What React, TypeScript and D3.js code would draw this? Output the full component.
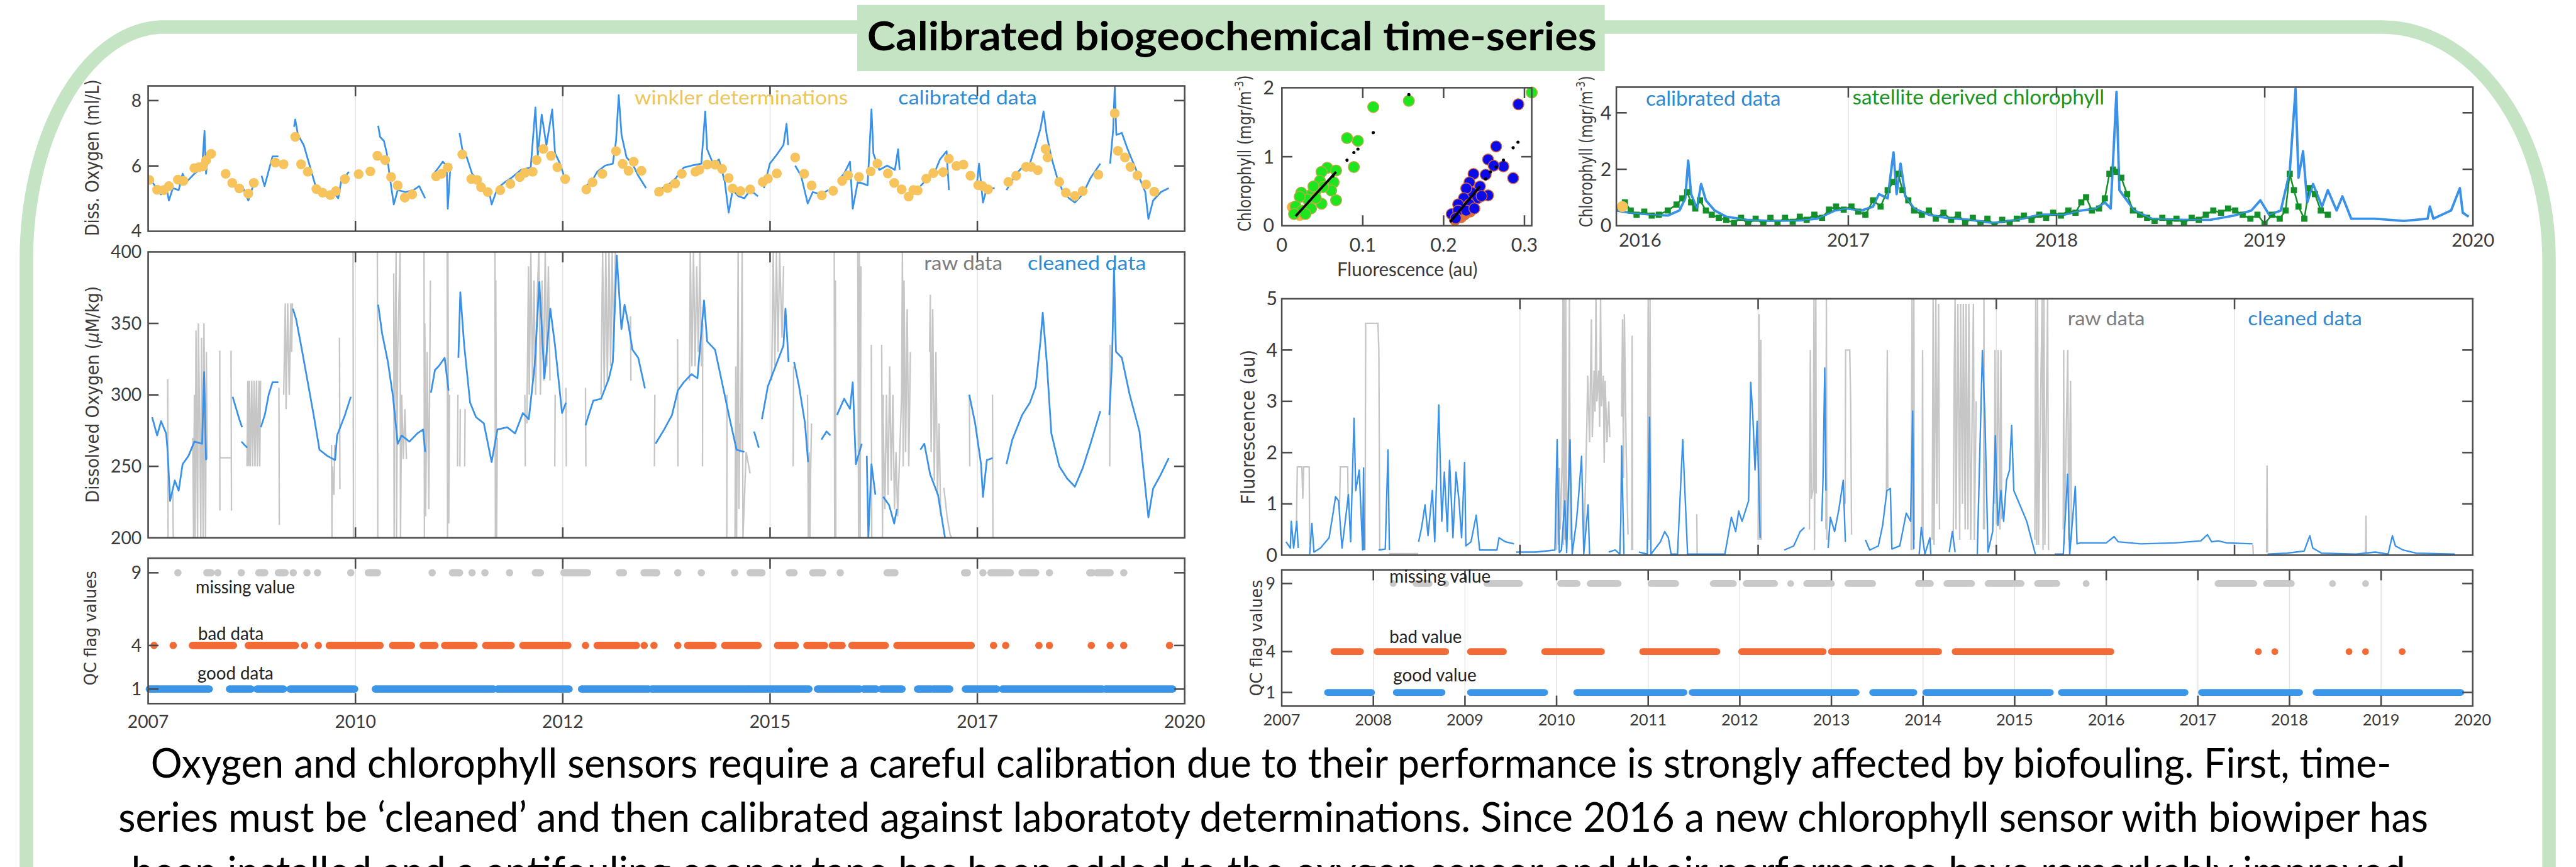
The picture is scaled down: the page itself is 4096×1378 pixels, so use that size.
import * as d3 from "d3";

type Pt = [number, number] | null;
type XY = [number, number];

const SCALE = 0.975;
const BLUE = "#3a92e8";
const GREY = "#c6c6c6";
const FONT = "Lato, 'Open Sans', sans-serif";
const AXFONT = "'DejaVu Sans', Verdana, sans-serif";

// ---------- oxygen column ----------
const oxyTickYears = [2007, 2009.6, 2012.2, 2014.8, 2017.4, 2020];
const oxyTickLabels = ["2007", "2010", "2012", "2015", "2017", "2020"];

const oxyCalibrated: Pt[] = [
  [2007.015, 5.63], [2007.088, 5.38], [2007.162, 5.13], [2007.236, 5.26], [2007.26, 4.94], [2007.31, 5.32], [2007.383, 5.26], [2007.432, 5.76], [2007.481, 5.51], [2007.579, 5.76], [2007.677, 5.95], [2007.707, 7.07], [2007.726, 5.76], [2007.751, 6.32], null,
  [2008.045, 5.54], [2008.119, 5.26], [2008.192, 5.32], [2008.256, 4.94], [2008.315, 5.38], null,
  [2008.423, 5.7], [2008.46, 5.38], [2008.56, 6.29], [2008.634, 6.29], null,
  [2008.83, 7.2], [2008.845, 7.42], [2008.879, 6.95], [2008.953, 6.63], [2009.026, 6.01], [2009.1, 5.38], [2009.174, 5.26], [2009.247, 5.04], [2009.345, 5.13], [2009.384, 5.01], [2009.419, 5.51], [2009.517, 5.82], null,
  [2009.885, 7.23], [2009.909, 6.89], [2009.958, 6.76], [2009.993, 6.39], [2010.032, 5.63], [2010.081, 4.82], [2010.13, 5.26], [2010.228, 5.2], [2010.327, 5.26], [2010.4, 5.38], [2010.474, 5.01], null,
  [2010.562, 5.7], [2010.621, 5.88], [2010.695, 6.13], [2010.744, 6.01], [2010.758, 4.69], [2010.793, 6.07], null,
  [2010.905, 7.01], [2010.94, 6.51], [2010.989, 6.32], [2011.063, 5.76], [2011.136, 5.57], [2011.21, 5.32], [2011.283, 5.13], [2011.308, 4.82], [2011.381, 5.32], [2011.479, 5.51], [2011.553, 5.63], [2011.676, 5.88], [2011.798, 5.95], [2011.857, 7.79], [2011.887, 6.32], [2011.936, 7.57], [2011.995, 6.63], [2012.068, 7.73], [2012.103, 6.39], [2012.166, 6.07], [2012.24, 5.51], null,
  [2012.485, 5.38], [2012.559, 5.51], [2012.632, 5.82], [2012.73, 6.01], [2012.828, 6.07], [2012.868, 6.76], [2012.902, 8.17], [2012.937, 6.95], [2013.0, 6.26], [2013.074, 6.07], [2013.147, 5.7], [2013.245, 5.32], null,
  [2013.364, 5.1], [2013.447, 5.32], [2013.521, 5.41], [2013.619, 5.63], [2013.717, 5.95], [2013.815, 6.01], [2013.938, 6.07], [2013.987, 7.67], [2014.011, 6.51], [2014.085, 6.07], [2014.159, 6.2], [2014.232, 5.51], [2014.281, 4.57], [2014.33, 5.26], [2014.404, 5.07], [2014.478, 5.01], [2014.551, 5.26], [2014.649, 5.07], null,
  [2014.723, 5.32], [2014.797, 6.07], [2014.895, 6.38], [2014.968, 6.64], [2015.007, 7.29], [2015.027, 6.64], null,
  [2015.115, 6.01], [2015.189, 5.7], [2015.272, 4.85], [2015.336, 5.2], [2015.434, 5.13], [2015.532, 5.26], null,
  [2015.655, 5.57], [2015.729, 5.76], [2015.802, 6.13], [2015.837, 4.69], [2015.9, 5.51], [2016.023, 5.41], [2016.047, 6.51], [2016.072, 7.73], [2016.096, 6.38], [2016.17, 5.88], [2016.268, 6.01], [2016.366, 5.88], [2016.406, 6.51], [2016.425, 5.88], null,
  [2016.685, 5.38], [2016.759, 5.57], [2016.857, 5.76], [2016.931, 6.2], [2017.014, 6.45], [2017.043, 5.26], null,
  [2017.397, 5.51], [2017.421, 6.07], [2017.47, 4.88], [2017.519, 5.32], [2017.617, 5.32], null,
  [2017.765, 5.26], [2017.887, 5.76], [2017.985, 6.01], [2018.059, 6.07], [2018.132, 6.64], [2018.191, 7.14], [2018.23, 7.67], [2018.27, 6.95], [2018.328, 6.26], [2018.402, 5.63], [2018.476, 5.2], [2018.55, 5.01], [2018.623, 4.88], [2018.721, 5.13], [2018.819, 5.63], [2018.942, 6.07], null,
  [2019.065, 6.07], [2019.104, 7.14], [2019.123, 8.45], [2019.143, 6.95], [2019.212, 7.01], [2019.285, 6.51], [2019.359, 6.07], [2019.433, 5.63], [2019.506, 5.2], [2019.545, 4.38], [2019.604, 4.94], [2019.702, 5.2], [2019.8, 5.32],
];

const winkler: XY[] = [
  [2007.015, 5.57], [2007.113, 5.27], [2007.196, 5.26], [2007.26, 5.38], [2007.373, 5.58], [2007.442, 5.54], [2007.579, 5.93], [2007.638, 5.96], [2007.687, 5.98], [2007.726, 6.17], [2007.79, 6.37],
  [2007.972, 5.76], [2008.055, 5.48], [2008.143, 5.31], [2008.256, 5.15], [2008.325, 5.48], [2008.595, 6.1], [2008.698, 6.05], [2008.845, 6.89], [2008.918, 6.05], [2009.002, 5.82],
  [2009.11, 5.29], [2009.188, 5.18], [2009.286, 5.11], [2009.355, 5.23], [2009.468, 5.6], [2009.64, 5.75], [2009.787, 5.83], [2009.875, 6.31], [2009.973, 6.18], [2010.047, 5.66],
  [2010.13, 5.4], [2010.219, 5.03], [2010.312, 5.13], [2010.611, 5.68], [2010.68, 5.76], [2010.758, 5.95], [2010.94, 6.35], [2011.053, 5.6], [2011.126, 5.57], [2011.175, 5.35],
  [2011.259, 5.2], [2011.416, 5.26], [2011.543, 5.45], [2011.661, 5.66], [2011.725, 5.79], [2011.823, 5.82], [2011.872, 6.18], [2011.955, 6.52], [2012.053, 6.31], [2012.132, 5.96],
  [2012.23, 5.6], [2012.495, 5.28], [2012.573, 5.5], [2012.696, 5.76], [2012.868, 6.45], [2012.951, 6.06], [2013.025, 5.85], [2013.089, 6.13], [2013.187, 5.85], [2013.408, 5.21],
  [2013.515, 5.32], [2013.609, 5.46], [2013.693, 5.76], [2013.864, 5.82], [2013.913, 5.88], [2014.011, 6.04], [2014.11, 6.04], [2014.198, 5.91], [2014.281, 5.63], [2014.33, 5.31],
  [2014.428, 5.23], [2014.551, 5.28], [2014.708, 5.51], [2014.772, 5.61], [2014.885, 5.77], [2015.115, 6.26], [2015.228, 5.76], [2015.321, 5.4], [2015.449, 5.1], [2015.591, 5.24],
  [2015.704, 5.54], [2015.778, 5.71], [2015.915, 5.66], [2016.062, 5.83], [2016.146, 6.07], [2016.278, 5.77], [2016.357, 5.48], [2016.45, 5.28], [2016.538, 5.06], [2016.597, 5.26],
  [2016.651, 5.25], [2016.759, 5.61], [2016.847, 5.78], [2016.97, 5.81], [2017.043, 6.22], [2017.137, 6.0], [2017.225, 6.04], [2017.313, 5.7], [2017.411, 5.41], [2017.465, 5.38],
  [2017.534, 5.28], [2017.789, 5.51], [2017.887, 5.7], [2018.01, 5.97], [2018.074, 5.97], [2018.157, 5.87], [2018.255, 6.52], [2018.28, 6.26], [2018.427, 5.51], [2018.51, 5.18],
  [2018.623, 5.08], [2018.721, 5.23], [2018.917, 5.73], [2019.123, 7.61], [2019.163, 6.46], [2019.251, 6.26], [2019.32, 5.97], [2019.408, 5.71], [2019.516, 5.43], [2019.619, 5.21],
];

const oxyCleaned: Pt[] = [
  [2007.05, 284.4], [2007.113, 271.6], [2007.162, 281.6], [2007.226, 273.0], [2007.245, 260.1], [2007.275, 225.8], [2007.334, 240.1], [2007.383, 233.0], [2007.432, 251.5], [2007.506, 257.3], [2007.58, 267.3], [2007.677, 265.8], [2007.702, 315.9], [2007.726, 254.4], null,
  [2008.06, 298.7], [2008.143, 283.0], [2008.178, 277.3], null,
  [2008.17, 267.3], [2008.242, 263.0], null,
  [2008.413, 277.3], [2008.463, 285.9], [2008.512, 300.2], [2008.56, 308.8], [2008.634, 308.8], null,
  [2008.815, 360.3], [2008.855, 353.1], [2008.928, 331.6], [2009.002, 308.8], [2009.076, 285.9], [2009.149, 261.6], [2009.247, 257.3], [2009.345, 254.4], [2009.37, 271.6], [2009.468, 285.9], [2009.542, 298.7], null,
  [2009.885, 363.1], [2009.934, 343.1], [2010.007, 323.1], [2010.071, 298.7], [2010.13, 265.8], [2010.179, 271.6], [2010.277, 267.3], [2010.375, 273.0], [2010.449, 275.8], [2010.474, 260.1], null,
  [2010.547, 301.6], [2010.597, 317.3], [2010.646, 320.2], [2010.719, 325.9], [2010.768, 303.0], null,
  [2010.891, 325.9], [2010.915, 371.7], [2010.964, 334.5], [2011.038, 294.5], [2011.112, 284.4], [2011.21, 280.1], [2011.308, 253.0], [2011.381, 275.8], [2011.504, 277.3], [2011.602, 273.0], [2011.7, 287.3], [2011.774, 283.0], [2011.847, 320.2], [2011.906, 378.9], [2011.97, 311.6], [2012.044, 360.3], [2012.103, 334.5], [2012.191, 287.3], [2012.24, 294.5], null,
  [2012.485, 278.7], [2012.583, 295.9], [2012.681, 297.3], [2012.779, 311.6], [2012.828, 323.1], [2012.877, 397.5], [2012.936, 346.0], [2012.975, 363.1], [2013.025, 348.8], [2013.074, 331.6], [2013.147, 325.9], [2013.231, 304.5], null,
  [2013.364, 265.8], [2013.472, 275.8], [2013.57, 285.9], [2013.643, 303.0], [2013.717, 308.8], [2013.815, 314.5], [2013.889, 311.6], [2013.972, 366.0], [2014.011, 337.4], [2014.11, 331.6], [2014.208, 305.9], [2014.306, 280.1], [2014.38, 261.6], [2014.478, 260.1], null,
  [2014.6, 274.4], [2014.659, 263.0], null,
  [2014.698, 283.0], [2014.772, 305.9], [2014.87, 320.2], [2014.968, 334.5], [2014.993, 360.3], [2015.032, 323.1], null,
  [2015.101, 323.1], [2015.164, 305.9], [2015.238, 280.1], [2015.277, 253.0], null,
  [2015.444, 268.7], [2015.508, 274.4], [2015.557, 271.6], null,
  [2015.64, 285.9], [2015.729, 297.3], [2015.802, 290.2], [2015.837, 308.8], [2015.876, 251.5], [2015.95, 265.8], null,
  [2016.013, 257.3], [2016.033, 200], [2016.072, 251.5], [2016.121, 230.1], null,
  [2016.219, 228.7], [2016.293, 222.9], [2016.357, 210.0], [2016.391, 220.1], null,
  [2016.685, 261.6], [2016.735, 265.8], [2016.808, 244.4], [2016.906, 230.1], [2016.994, 200], null,
  [2017.298, 300.2], [2017.372, 280.1], [2017.446, 251.5], [2017.47, 228.7], [2017.519, 254.4], [2017.593, 255.8], null,
  [2017.765, 251.5], [2017.838, 268.7], [2017.961, 285.9], [2018.059, 294.5], [2018.132, 305.9], [2018.191, 337.4], [2018.22, 357.4], [2018.27, 323.1], [2018.328, 273.0], [2018.427, 250.1], [2018.525, 241.5], [2018.623, 235.8], [2018.721, 248.7], [2018.819, 265.8], [2018.942, 288.7], null,
  [2019.055, 285.9], [2019.089, 323.1], [2019.114, 388.9], [2019.138, 330.2], [2019.212, 325.9], [2019.31, 300.2], [2019.433, 274.4], [2019.545, 214.3], [2019.604, 234.4], [2019.702, 244.4], [2019.8, 255.8],
];

const oxyRaw: XY[][] = [
  [[2007.245, 311], [2007.25, 200]],
  [[2007.31, 232], [2007.315, 200]],
  [[2007.56, 270], [2007.57, 200], [2007.58, 300], [2007.59, 200], [2007.6, 345], [2007.62, 200], [2007.63, 350], [2007.65, 260], [2007.66, 200], [2007.67, 340], [2007.69, 200], [2007.7, 350], [2007.72, 200], [2007.73, 330], [2007.74, 255]],
  [[2007.898, 331], [2007.9, 219]],
  [[2007.9, 256], [2008.04, 256]],
  [[2008.04, 331], [2008.045, 219]],
  [[2008.24, 250], [2008.25, 310], [2008.26, 250], [2008.27, 310], [2008.28, 250], [2008.3, 310], [2008.31, 250], [2008.33, 310], [2008.34, 250], [2008.36, 310], [2008.37, 250], [2008.39, 310], [2008.4, 250], [2008.41, 310]],
  [[2008.64, 305], [2008.645, 209]],
  [[2008.7, 300], [2008.72, 364], [2008.73, 290], [2008.75, 364], [2008.77, 300], [2008.79, 364], [2008.8, 330], [2008.81, 364]],
  [[2009.3, 265], [2009.305, 200], [2009.31, 250], [2009.33, 230], [2009.34, 265]],
  [[2009.4, 340], [2009.405, 234]],
  [[2009.57, 400], [2009.575, 200]],
  [[2009.875, 400], [2009.88, 200]],
  [[2010.08, 385], [2010.085, 200], [2010.09, 290], [2010.11, 400], [2010.115, 200], [2010.13, 330], [2010.16, 400], [2010.165, 200], [2010.18, 300], [2010.2, 255], [2010.22, 290], [2010.24, 255]],
  [[2010.46, 400], [2010.465, 200], [2010.47, 350], [2010.48, 215], [2010.5, 330], [2010.52, 220], [2010.54, 380]],
  [[2010.75, 400], [2010.755, 200], [2010.76, 400], [2010.77, 210], [2010.78, 300]],
  [[2010.88, 250], [2010.885, 300]],
  [[2010.91, 250], [2010.915, 290]],
  [[2010.97, 250], [2010.975, 290]],
  [[2011.35, 400], [2011.355, 200], [2011.36, 380], [2011.37, 200], [2011.38, 270]],
  [[2011.725, 300], [2011.73, 250]],
  [[2011.75, 280], [2011.77, 390], [2011.78, 300], [2011.8, 400], [2011.82, 310], [2011.84, 380], [2011.86, 300], [2011.88, 370], [2011.9, 400], [2011.92, 300], [2011.94, 380], [2011.96, 310], [2011.98, 400], [2012.0, 320], [2012.02, 390], [2012.04, 310]],
  [[2012.1, 250], [2012.105, 300]],
  [[2012.24, 305], [2012.245, 250]],
  [[2012.485, 305], [2012.49, 250]],
  [[2012.68, 300], [2012.7, 400], [2012.72, 305], [2012.74, 400], [2012.76, 310], [2012.78, 400], [2012.8, 320], [2012.82, 400], [2012.84, 330], [2012.86, 400]],
  [[2013.05, 355], [2013.055, 310]],
  [[2013.35, 250], [2013.355, 300]],
  [[2013.64, 339], [2013.645, 250]],
  [[2013.79, 310], [2013.8, 400], [2013.82, 320], [2013.84, 400], [2013.86, 320], [2013.88, 390], [2013.9, 330], [2013.92, 400], [2013.94, 320]],
  [[2013.953, 250], [2013.955, 350]],
  [[2014.257, 200], [2014.26, 300]],
  [[2014.36, 200], [2014.37, 320], [2014.38, 200], [2014.4, 400], [2014.41, 220], [2014.42, 280], [2014.43, 260], [2014.45, 400], [2014.46, 200], [2014.5, 260], [2014.55, 245]],
  [[2014.82, 310], [2014.84, 400], [2014.86, 320], [2014.88, 400], [2014.9, 330], [2014.92, 400], [2014.95, 340], [2014.97, 390]],
  [[2015.09, 250], [2015.095, 320]],
  [[2015.27, 300], [2015.28, 200], [2015.29, 260], [2015.3, 200], [2015.31, 250], [2015.32, 280]],
  [[2015.605, 400], [2015.61, 200], [2015.62, 380], [2015.625, 200]],
  [[2015.9, 400], [2015.91, 200], [2015.92, 400], [2015.93, 200], [2015.94, 390]],
  [[2016.07, 335], [2016.075, 200]],
  [[2016.2, 335], [2016.21, 200], [2016.22, 300]],
  [[2016.22, 280], [2016.24, 220], [2016.26, 300], [2016.28, 230], [2016.3, 320], [2016.32, 240], [2016.34, 300], [2016.36, 220], [2016.38, 260], [2016.4, 215], [2016.45, 300], [2016.46, 400], [2016.47, 250], [2016.48, 380], [2016.5, 260], [2016.52, 360], [2016.54, 250], [2016.56, 330]],
  [[2016.8, 330], [2016.81, 370], [2016.82, 260], [2016.84, 360], [2016.86, 240], [2016.88, 330], [2016.9, 230], [2016.92, 280], [2016.94, 215]],
  [[2016.98, 235], [2017.0, 225], [2017.02, 215], [2017.04, 208], [2017.06, 202], [2017.08, 200]],
  [[2017.3, 300], [2017.305, 250]],
  [[2017.59, 300], [2017.595, 200]],
  [[2019.06, 250], [2019.065, 335]],
];

// QC flag runs [start, end] in years
const qcOxyMissing: XY[] = [
  [2007.373, 2007.373], [2007.736, 2007.79], [2007.874, 2007.874], [2008.168, 2008.168], [2008.389, 2008.462], [2008.634, 2008.717], [2008.82, 2008.82], [2008.992, 2008.992], [2009.124, 2009.124],
  [2009.541, 2009.541], [2009.762, 2009.875], [2010.562, 2010.562], [2010.817, 2010.905], [2011.062, 2011.062], [2011.224, 2011.224], [2011.533, 2011.533], [2011.857, 2011.92], [2012.215, 2012.51],
  [2012.912, 2012.961], [2013.22, 2013.378], [2013.643, 2013.643], [2013.938, 2013.938], [2014.355, 2014.355], [2014.551, 2014.698], [2015.042, 2015.1], [2015.336, 2015.459], [2015.68, 2015.68],
  [2016.268, 2016.366], [2017.24, 2017.274], [2017.47, 2017.47], [2017.57, 2017.814], [2017.961, 2018.132], [2018.304, 2018.304], [2018.81, 2018.84], [2018.9, 2019.065], [2019.236, 2019.236],
];
const qcOxyBad: XY[] = [
  [2007.074, 2007.074], [2007.314, 2007.314], [2007.555, 2008.07], [2008.256, 2008.845], [2008.962, 2008.962], [2009.134, 2009.134], [2009.272, 2009.909], [2010.066, 2010.302], [2010.449, 2010.596],
  [2010.719, 2011.087], [2011.234, 2011.553], [2011.7, 2012.264], [2012.485, 2012.485], [2012.632, 2013.123], [2013.221, 2013.221], [2013.344, 2013.344], [2013.643, 2013.643], [2013.766, 2014.085],
  [2014.232, 2014.649], [2014.894, 2015.115], [2015.262, 2015.483], [2015.581, 2015.704], [2015.827, 2016.244], [2016.391, 2017.323], [2017.603, 2017.603], [2017.755, 2017.755],
  [2018.172, 2018.172], [2018.304, 2018.304], [2018.829, 2018.829], [2019.065, 2019.065], [2019.236, 2019.236], [2019.81, 2019.81],
];
const qcOxyGood: XY[] = [
  [2007.015, 2007.766], [2008.021, 2008.29], [2008.364, 2008.698], [2008.781, 2009.59], [2009.85, 2011.332], [2011.381, 2012.279], [2012.436, 2013.276], [2013.315, 2014.527],
  [2014.54, 2015.287], [2015.395, 2015.925], [2015.974, 2016.131], [2016.195, 2016.455], [2016.65, 2016.818], [2016.847, 2017.053], [2017.25, 2017.642], [2017.716, 2018.966], [2019.005, 2019.85],
];

// ---------- calibration scatter ----------
const calGreen: XY[] = [
  [0.309, 1.93], [0.157, 1.81], [0.113, 1.72], [0.0805, 1.27], [0.094, 1.23], [0.089, 0.85], [0.056, 0.84], [0.049, 0.78], [0.067, 0.8], [0.064, 0.63], [0.047, 0.65], [0.061, 0.51], [0.067, 0.37],
  [0.051, 0.56], [0.042, 0.51], [0.036, 0.45], [0.024, 0.48], [0.032, 0.38], [0.049, 0.32], [0.022, 0.42], [0.017, 0.28], [0.025, 0.22], [0.036, 0.25], [0.015, 0.17], [0.029, 0.17], [0.042, 0.4], [0.039, 0.57],
];
const calGreenUnder: XY[] = [[0.013, 0.27], [0.016, 0.21], [0.022, 0.15]];
const calBlue: XY[] = [
  [0.2925, 1.76], [0.265, 1.15], [0.255, 0.96], [0.274, 0.86], [0.286, 0.69], [0.262, 0.87], [0.252, 0.74], [0.237, 0.75], [0.255, 0.44], [0.245, 0.57], [0.232, 0.63], [0.235, 0.48],
  [0.228, 0.54], [0.225, 0.4], [0.242, 0.4], [0.218, 0.31], [0.232, 0.31], [0.21, 0.17], [0.218, 0.22], [0.228, 0.22], [0.215, 0.11], [0.238, 0.25], [0.247, 0.43],
];
const calBlueUnder: XY[] = [[0.214, 0.08], [0.222, 0.12], [0.226, 0.16], [0.233, 0.2]];
const calFitDots: XY[] = [
  [0.157, 1.9], [0.113, 1.35], [0.094, 1.11], [0.089, 1.06], [0.0805, 0.95], [0.063, 0.72], [0.292, 1.21], [0.286, 1.13], [0.274, 0.95], [0.265, 0.85], [0.258, 0.78], [0.252, 0.68], [0.209, 0.07],
];
const calFitLines: XY[][] = [
  [[0.017, 0.14], [0.067, 0.78]],
  [[0.21, 0.08], [0.245, 0.57]],
];

// ---------- chlorophyll time series ----------
const chlYears = [2016, 2017, 2018, 2019, 2020];
const chlCalibrated: Pt[] = [
  [2015.887, 0.54], [2015.95, 0.46], [2016.006, 0.43], [2016.062, 0.39], [2016.133, 0.36], [2016.189, 0.54], [2016.217, 0.97], [2016.231, 2.31], [2016.245, 1.12], [2016.273, 0.61], [2016.293, 1.48],
  [2016.316, 0.9], [2016.358, 0.54], [2016.414, 0.32], [2016.513, 0.21], [2016.626, 0.17], [2016.767, 0.19], [2016.851, 0.25], [2016.936, 0.54], [2016.992, 0.61], [2017.063, 0.54], [2017.119, 0.68],
  [2017.147, 1.12], [2017.189, 0.97], [2017.217, 2.6], [2017.232, 1.12], [2017.251, 2.2], [2017.274, 1.04], [2017.316, 0.61], [2017.387, 0.39], [2017.471, 0.28], [2017.584, 0.21], [2017.697, 0.1],
  [2017.809, 0.21], [2017.922, 0.39], [2018.035, 0.39], [2018.119, 0.54], [2018.19, 0.61], [2018.232, 0.83], [2018.26, 0.61], [2018.288, 4.74], [2018.302, 1.26], [2018.331, 0.97], [2018.373, 0.54],
  [2018.457, 0.25], [2018.598, 0.21], [2018.739, 0.21], [2018.852, 0.36], [2018.936, 0.54], [2018.979, 0.9], [2019.021, 0.39], [2019.077, 0.54], [2019.12, 1.91], [2019.148, 4.85], [2019.162, 1.7],
  [2019.184, 2.64], [2019.204, 0.83], [2019.232, 1.48], [2019.275, 0.68], [2019.303, 1.26], [2019.345, 0.54], [2019.373, 1.04], [2019.415, 0.25], [2019.528, 0.25], [2019.669, 0.17], [2019.782, 0.25],
  [2019.793, 0.68], [2019.81, 0.25], [2019.895, 0.54], [2019.937, 1.33], [2019.951, 0.46], [2019.979, 0.32],
];
const chlSatellite: XY[] = [
  [2015.899, 0.61], [2015.927, 0.83], [2015.955, 0.54], [2015.983, 0.39], [2016.02, 0.5], [2016.056, 0.36], [2016.09, 0.39], [2016.133, 0.54], [2016.175, 0.75], [2016.203, 0.97], [2016.226, 1.19],
  [2016.245, 0.83], [2016.265, 0.61], [2016.288, 0.9], [2016.316, 0.54], [2016.344, 0.39], [2016.378, 0.28], [2016.414, 0.21], [2016.451, 0.1], [2016.485, 0.28], [2016.519, 0.07], [2016.555, 0.25],
  [2016.592, 0.07], [2016.626, 0.28], [2016.66, 0.1], [2016.696, 0.28], [2016.733, 0.14], [2016.767, 0.32], [2016.8, 0.21], [2016.837, 0.39], [2016.874, 0.28], [2016.907, 0.57], [2016.941, 0.68],
  [2016.978, 0.57], [2017.015, 0.68], [2017.048, 0.5], [2017.082, 0.39], [2017.119, 0.9], [2017.155, 0.68], [2017.189, 1.26], [2017.217, 1.55], [2017.24, 1.84], [2017.26, 1.26], [2017.288, 0.9],
  [2017.316, 0.54], [2017.353, 0.39], [2017.387, 0.54], [2017.42, 0.25], [2017.457, 0.46], [2017.494, 0.21], [2017.527, 0.39], [2017.561, 0.1], [2017.598, 0.28], [2017.635, 0.07], [2017.668, 0.25],
  [2017.702, 0.03], [2017.739, 0.21], [2017.775, 0.1], [2017.809, 0.25], [2017.843, 0.36], [2017.88, 0.21], [2017.917, 0.39], [2017.95, 0.28], [2017.984, 0.46], [2018.021, 0.36], [2018.057, 0.54],
  [2018.091, 0.46], [2018.119, 0.83], [2018.142, 1.01], [2018.17, 0.54], [2018.204, 0.61], [2018.232, 0.97], [2018.254, 1.84], [2018.271, 1.99], [2018.288, 1.91], [2018.311, 1.7], [2018.339, 1.12],
  [2018.367, 0.54], [2018.401, 0.39], [2018.435, 0.28], [2018.471, 0.17], [2018.508, 0.28], [2018.542, 0.14], [2018.576, 0.25], [2018.612, 0.1], [2018.649, 0.28], [2018.683, 0.21], [2018.717, 0.39],
  [2018.753, 0.54], [2018.79, 0.46], [2018.824, 0.61], [2018.858, 0.54], [2018.894, 0.39], [2018.931, 0.25], [2018.965, 0.39], [2018.999, 0.07], [2019.035, 0.39], [2019.072, 0.25], [2019.1, 0.54],
  [2019.12, 1.84], [2019.14, 1.26], [2019.162, 0.68], [2019.19, 0.25], [2019.213, 1.33], [2019.241, 1.12], [2019.269, 0.54], [2019.303, 0.39],
];
const chlFirstSample: XY = [2015.915, 0.68];

// ---------- fluorescence column ----------
const fluoYears = d3.range(2007, 2021);
const fluoGridYears = [2009.6, 2012.2, 2014.8, 2017.4];

const fluoCleaned: Pt[] = [
  [2007.047, 0.26], [2007.094, 0.14], [2007.104, 0.66], [2007.13, 0.14], [2007.164, 0.66], [2007.18, 0.14], null,
  [2007.305, 0.02], [2007.329, 0.62], [2007.352, 0.06], [2007.423, 0.14], [2007.517, 0.34], [2007.564, 0.86], [2007.587, 1.14], [2007.62, 1.06], [2007.658, 0.14], [2007.728, 1.18], [2007.752, 0.26], [2007.789, 2.67], [2007.808, 1.26], [2007.846, 1.66], [2007.883, 0.1], [2007.893, 1.7], [2007.9, 0.1], null,
  [2008.057, 0.1], [2008.13, 0.12], [2008.16, 2.05], [2008.175, 0.1], null,
  [2008.494, 0.26], [2008.527, 0.54], [2008.564, 0.98], [2008.597, 0.38], [2008.644, 1.26], [2008.67, 0.26], [2008.714, 2.93], [2008.747, 0.66], [2008.775, 1.62], [2008.808, 0.46], [2008.832, 1.85], [2008.869, 0.34], [2008.902, 1.62], [2008.935, 1.06], [2008.963, 0.34], [2008.996, 1.81], [2009.01, 0.18], [2009.066, 0.26], [2009.123, 0.78], [2009.16, 0.1], [2009.348, 0.1], [2009.372, 0.34], [2009.442, 0.26], [2009.536, 0.22], null,
  [2009.56, 0.06], [2009.771, 0.06], [2009.982, 0.1], [2010.006, 2.25], [2010.03, 0.05], [2010.053, 0.1], [2010.09, 1.06], [2010.11, 0.05], [2010.147, 2.25], [2010.17, 0.02], [2010.217, 0.66], [2010.24, 1.14], [2010.273, 1.93], [2010.297, 0.02], [2010.344, 0.98], [2010.36, 0.02], null,
  [2010.569, 0.06], [2010.64, 0.1], [2010.69, 0.02], [2010.701, 0.66], [2010.71, 2.13], [2010.735, 0.02], null,
  [2010.898, 0.06], [2010.99, 0.02], [2011.015, 2.69], [2011.03, 0.02], [2011.133, 0.26], [2011.18, 0.46], [2011.22, 0.34], [2011.25, 0.02], [2011.32, 0.02], [2011.377, 2.25], [2011.405, 1.06], [2011.43, 0.02], [2011.837, 0.02], [2011.861, 0.26], [2011.908, 0.74], [2011.955, 0.46], [2011.988, 0.86], [2012.025, 0.66], [2012.096, 1.06], [2012.119, 3.37], [2012.142, 2.73], [2012.166, 1.66], [2012.189, 2.61], [2012.222, 0.34], null,
  [2012.485, 0.1], [2012.588, 0.18], [2012.659, 0.46], [2012.706, 0.54], null,
  [2012.894, 0.66], [2012.908, 1.46], [2012.927, 3.65], [2012.94, 1.26], null,
  [2012.964, 0.14], [2012.988, 0.74], [2013.035, 0.46], [2013.082, 0.9], [2013.129, 1.46], [2013.152, 0.26], null,
  [2013.371, 0.3], [2013.418, 0.1], [2013.512, 0.18], [2013.559, 0.58], [2013.606, 1.26], [2013.643, 1.3], [2013.66, 0.12], [2013.746, 0.18], [2013.817, 0.82], [2013.864, 0.66], [2013.887, 2.81], [2013.9, 0.12], null,
  [2013.958, 0.02], [2013.981, 0.54], [2014.02, 0.02], [2014.075, 0.34], [2014.085, 0.02], null,
  [2014.286, 0.06], [2014.32, 0.46], [2014.35, 0.06], null,
  [2014.592, 0.02], [2014.615, 1.66], [2014.648, 3.99], [2014.676, 2.65], [2014.709, 0.06], [2014.76, 0.46], [2014.789, 2.33], [2014.817, 0.58], [2014.85, 1.26], [2014.88, 0.66], [2014.911, 1.46], [2014.944, 1.66], [2014.967, 2.53], [2014.991, 1.26], [2015.085, 0.86], [2015.132, 0.66], [2015.179, 0.34], [2015.226, 0.02], null,
  [2015.437, 0.02], [2015.531, 0.02], [2015.578, 1.58], [2015.601, 0.02], [2015.662, 1.34], [2015.681, 0.22], [2015.719, 0.24], [2016.0, 0.24], [2016.085, 0.36], [2016.132, 0.26], [2016.376, 0.22], [2016.752, 0.24], [2017.033, 0.28], [2017.104, 0.4], [2017.15, 0.26], [2017.221, 0.28], [2017.315, 0.24], [2017.597, 0.22], null,
  [2017.761, 0.02], [2017.973, 0.04], [2018.067, 0.06], [2018.16, 0.08], [2018.222, 0.38], [2018.254, 0.14], [2018.348, 0.04], [2018.724, 0.02], [2018.936, 0.06], [2019.076, 0.02], [2019.123, 0.38], [2019.156, 0.18], [2019.24, 0.1], [2019.382, 0.04], [2019.804, 0.02],
];

const fluoRaw: XY[][] = [
  [[2007.16, 0.5], [2007.17, 1.72], [2007.22, 1.72], [2007.23, 1.1], [2007.24, 1.72], [2007.3, 1.72], [2007.305, 0.2]],
  [[2007.63, 0.9], [2007.64, 1.72], [2007.72, 1.72], [2007.725, 1.0]],
  [[2007.91, 0.1], [2007.916, 4.52], [2008.05, 4.52], [2008.06, 4.0], [2008.07, 0.1]],
  [[2008.17, 0.03], [2008.49, 0.03]],
  [[2010.0, 0.1], [2010.01, 1.9], [2010.02, 0.2], [2010.03, 1.7], [2010.04, 0.5], [2010.05, 1.1], [2010.06, 1.8], [2010.07, 5], [2010.075, 0.2], [2010.08, 5], [2010.09, 0.3], [2010.1, 5], [2010.11, 0.5], [2010.13, 1.5], [2010.14, 5], [2010.15, 0.3]],
  [[2010.3, 0.2], [2010.31, 1.0], [2010.33, 2.5], [2010.34, 3.5], [2010.36, 2.2], [2010.38, 4.6], [2010.39, 2.3], [2010.41, 3.6], [2010.42, 2.8], [2010.43, 5], [2010.44, 3.0], [2010.46, 3.6], [2010.47, 2.5], [2010.48, 5], [2010.49, 2.9], [2010.51, 3.5], [2010.52, 1.8], [2010.53, 3.4], [2010.55, 2.2], [2010.57, 3.0], [2010.58, 2.3]],
  [[2010.71, 2.7], [2010.72, 4.6], [2010.73, 1.5], [2010.74, 4.7], [2010.76, 2.0], [2010.78, 0.4]],
  [[2010.82, 0.1], [2010.825, 4.28], [2010.83, 0.1]],
  [[2010.99, 0.1], [2011.0, 5], [2011.01, 0.3], [2011.02, 5], [2011.03, 0.2]],
  [[2011.53, 0.8], [2011.535, 0.02]],
  [[2012.2, 0.3], [2012.21, 4.7], [2012.22, 0.3], [2012.23, 4.2], [2012.235, 0.3]],
  [[2012.76, 0.5], [2012.77, 4.0], [2012.78, 1.1], [2012.8, 1.3], [2012.81, 5], [2012.815, 0.1], [2012.83, 5], [2012.835, 1.2]],
  [[2012.94, 0.5], [2012.945, 5], [2012.95, 0.3]],
  [[2013.15, 1.0], [2013.155, 4.0], [2013.2, 4.0], [2013.21, 3.0], [2013.22, 0.4]],
  [[2013.6, 1.2], [2013.61, 4.0], [2013.615, 1.3]],
  [[2013.87, 0.1], [2013.88, 5], [2013.89, 0.1], [2013.9, 5], [2013.905, 0.3]],
  [[2013.99, 0.5], [2013.995, 4.0], [2014.0, 0.3]],
  [[2014.1, 0.3], [2014.11, 5], [2014.12, 0.2], [2014.14, 5], [2014.15, 1.0], [2014.17, 4.9], [2014.18, 0.5]],
  [[2014.33, 0.3], [2014.34, 3.5], [2014.35, 5], [2014.36, 0.5], [2014.38, 4.9], [2014.4, 0.3], [2014.41, 4.9], [2014.43, 1.0], [2014.44, 4.9], [2014.46, 0.5], [2014.47, 4.9], [2014.49, 0.5], [2014.5, 4.9], [2014.52, 0.3], [2014.55, 4.9], [2014.56, 0.3], [2014.58, 3.0]],
  [[2014.66, 0.5], [2014.665, 5], [2014.67, 0.5]],
  [[2014.78, 1.0], [2014.785, 4.0], [2014.8, 0.6], [2014.82, 4.0], [2014.84, 0.5], [2014.85, 4.0], [2014.86, 0.7]],
  [[2015.22, 0.3], [2015.23, 5], [2015.24, 0.2], [2015.25, 5], [2015.26, 0.2], [2015.3, 5], [2015.31, 0.1], [2015.32, 5], [2015.33, 0.2], [2015.36, 5], [2015.37, 0.1]],
  [[2015.53, 0.5], [2015.535, 4.0], [2015.54, 0.2], [2015.58, 4.0], [2015.59, 0.3], [2015.61, 3.4], [2015.62, 0.3]],
  [[2017.6, 0.2], [2017.605, 0.02]],
  [[2017.75, 0.05], [2017.755, 1.75], [2017.76, 0.05]],
  [[2018.83, 0.05], [2018.835, 0.77], [2018.84, 0.05]],
];

const qcFluoMissing: XY[] = [
  [2008.216, 2008.216], [2008.466, 2008.61], [2008.79, 2008.79], [2009.24, 2009.596], [2010.044, 2010.224], [2010.367, 2010.672], [2011.03, 2011.3], [2011.71, 2011.93], [2012.07, 2012.38],
  [2012.555, 2012.555], [2012.73, 2013.0], [2013.18, 2013.45], [2013.95, 2014.08], [2014.26, 2014.53], [2014.71, 2015.07], [2015.25, 2015.46], [2015.78, 2015.78], [2017.22, 2017.61],
  [2017.75, 2018.02], [2018.47, 2018.47], [2018.83, 2018.83],
];
const qcFluoBad: XY[] = [
  [2007.57, 2007.86], [2008.04, 2008.79], [2009.06, 2009.42], [2009.87, 2010.49], [2010.94, 2011.75], [2012.02, 2012.91], [2013.0, 2014.17], [2014.35, 2016.05],
  [2017.66, 2017.66], [2017.84, 2017.84], [2018.65, 2018.65], [2018.83, 2018.83], [2019.23, 2019.23],
];
const qcFluoGood: XY[] = [
  [2007.5, 2007.98], [2008.25, 2008.75], [2009.06, 2009.87], [2010.22, 2011.39], [2011.48, 2013.27], [2013.45, 2013.9], [2014.03, 2015.39], [2015.51, 2016.86], [2017.04, 2018.11], [2018.29, 2019.87],
];

const captionLines = [
  "Oxygen and chlorophyll sensors require a careful calibration due to their performance is strongly affected by biofouling. First, time-",
  "series must be \u2018cleaned\u2019 and then calibrated against laboratoty determinations. Since 2016 a new chlorophyll sensor with biowiper has",
  "been installed and a antifouling cooper tape has been added to the oxygen sensor and their performance have remarkably improved.",
];

// ---------- small drawing helpers ----------
const TICK = 17;

function Grid({ x, y, at }) {
  const [yb, ya] = y.range();
  return (
    <g stroke="#e2e2e2" strokeWidth={1.5}>
      {at.map((v) => (
        <line key={v} x1={x(v)} x2={x(v)} y1={ya} y2={yb} />
      ))}
    </g>
  );
}

function Box({ x, y, xMarks = [], yMarks = [] }) {
  const [xa, xb] = x.range();
  const [yb, ya] = y.range();
  return (
    <g stroke="#4a4a4a" strokeWidth={2.6} fill="none">
      <rect x={xa} y={ya} width={xb - xa} height={yb - ya} />
      {xMarks.map((v) => (
        <g key={"x" + v}>
          <line x1={x(v)} x2={x(v)} y1={yb} y2={yb - TICK} />
          <line x1={x(v)} x2={x(v)} y1={ya} y2={ya + TICK} />
        </g>
      ))}
      {yMarks.map((v) => (
        <g key={"y" + v}>
          <line x1={xa} x2={xa + TICK} y1={y(v)} y2={y(v)} />
          <line x1={xb} x2={xb - TICK} y1={y(v)} y2={y(v)} />
        </g>
      ))}
    </g>
  );
}

function YLabels({ y, at, xEnd, fmt = (v) => String(v), size = 29 }) {
  return (
    <g fontFamily={FONT} fontSize={size} fill="#3a3a3a" textAnchor="end">
      {at.map((v) => (
        <text key={v} x={xEnd} y={y(v)} dy="0.35em">
          {fmt(v)}
        </text>
      ))}
    </g>
  );
}

function XLabels({ x, at, texts, yBase, size = 29 }) {
  return (
    <g fontFamily={FONT} fontSize={size} fill="#3a3a3a" textAnchor="middle">
      {at.map((v, i) => (
        <text key={v} x={x(v)} y={yBase}>
          {texts[i]}
        </text>
      ))}
    </g>
  );
}

function Series({ data, x, y, color, width = 2.2 }) {
  const gen = d3
    .line<Pt>()
    .defined((d) => d !== null)
    .x((d) => x(d[0]))
    .y((d) => y(d[1]));
  return <path d={gen(data) ?? ""} fill="none" stroke={color} strokeWidth={width} strokeLinejoin="round" />;
}

function Segments({ data, x, y, color, width = 2 }) {
  const gen = d3
    .line<XY>()
    .x((d) => x(d[0]))
    .y((d) => y(d[1]));
  return (
    <g fill="none" stroke={color} strokeWidth={width}>
      {data.map((s, i) => (
        <path key={i} d={gen(s) ?? ""} />
      ))}
    </g>
  );
}

function Runs({ runs, level, x, y, color, size = 12 }) {
  return (
    <g stroke={color} strokeWidth={size} strokeLinecap="round">
      {runs.map(([a, b], i) => (
        <line key={i} x1={x(a)} x2={x(b)} y1={y(level)} y2={y(level)} />
      ))}
    </g>
  );
}

function Clip({ id, x, y }) {
  const [xa, xb] = x.range();
  const [yb, ya] = y.range();
  return (
    <clipPath id={id}>
      <rect x={xa} y={ya} width={xb - xa} height={yb - ya} />
    </clipPath>
  );
}

function VLabel({ x, y, len, size = 29, children }) {
  return (
    <text
      transform={`translate(${x},${y}) rotate(-90)`}
      textAnchor="middle"
      fontFamily={AXFONT}
      fontSize={size}
      fill="#3a3a3a"
      textLength={len}
      lengthAdjust="spacingAndGlyphs"
    >
      {children}
    </text>
  );
}

function Legend({ x, y, len, color, size = 32, children }) {
  return (
    <text x={x} y={y} fontFamily={FONT} fontSize={size} fill={color} textLength={len} lengthAdjust="spacingAndGlyphs">
      {children}
    </text>
  );
}

export default function App() {
  // left column
  const xOxy = d3.scaleLinear([2007, 2020], [241.6, 1932]);
  const yA = d3.scaleLinear([4, 8.45], [377, 140]);
  const yB = d3.scaleLinear([200, 400], [876.7, 410.7]);
  const yC = d3.scaleLinear([0, 10], [1147, 910]);
  // scatter
  const xD = d3.scaleLinear([0, 0.309], [2090.6, 2498]);
  const yD = d3.scaleLinear([0, 2], [368, 143]);
  // chlorophyll series
  const xE = d3.scaleLinear([2015.886, 2020], [2636, 4033]);
  const yE = d3.scaleLinear([0, 4.91], [368, 142]);
  // fluorescence
  const xF = d3.scaleLinear([2007, 2020], [2090.3, 4032.6]);
  const yF = d3.scaleLinear([0, 5], [905, 487]);
  const yG = d3.scaleLinear([0, 10], [1151, 929]);

  const gridOxy = oxyTickYears.slice(1, -1);

  return (
    <svg width={4096} height={1378} style={{ position: "absolute", left: 0, top: 0, background: "#fff" }}>
      <g transform={`scale(${SCALE})`}>
        <defs>
          <Clip id="cA" x={xOxy} y={yA} />
          <Clip id="cB" x={xOxy} y={yB} />
          <Clip id="cE" x={xE} y={yE} />
          <Clip id="cF" x={xF} y={yF} />
        </defs>
        <rect x={0} y={0} width={4200} height={1413} fill="#fff" />

        {/* rounded frame and title */}
        <path
          d={`M43,1520 L43,424 A225,380 0 0 1 268,44 L3884,44 A273,380 0 0 1 4157,424 L4157,1520`}
          fill="none"
          stroke="#c5e4c3"
          strokeWidth={22}
        />
        <rect x={1398} y={8} width={1219} height={108} fill="#c5e4c3" />
        <text x={1414} y={82} fontFamily={FONT} fontWeight="bold" fontSize={64} textLength={1190} lengthAdjust="spacingAndGlyphs" fill="#000">
          Calibrated biogeochemical time-series
        </text>

        {/* panel A: calibrated oxygen */}
        <Grid x={xOxy} y={yA} at={gridOxy} />
        <g clipPath="url(#cA)">
          <Series data={oxyCalibrated} x={xOxy} y={yA} color={BLUE} width={2.8} />
          <g fill="#f6c35c">
            {winkler.map(([t, v], i) => (
              <circle key={i} cx={xOxy(t)} cy={yA(v)} r={8} />
            ))}
          </g>
        </g>
        <Box x={xOxy} y={yA} xMarks={gridOxy} yMarks={[6, 8]} />
        <YLabels y={yA} at={[4, 6, 8]} xEnd={231} />
        <VLabel x={161} y={257} len={255} size={30}>Diss. Oxygen (ml/L)</VLabel>
        <Legend x={1035} y={170} len={348} color="#ecc65a">winkler determinations</Legend>
        <Legend x={1465} y={170} len={226} color="#2e8ad2">calibrated data</Legend>

        {/* panel B: raw / cleaned oxygen */}
        <Grid x={xOxy} y={yB} at={gridOxy} />
        <g clipPath="url(#cB)">
          <Segments data={oxyRaw} x={xOxy} y={yB} color={GREY} width={2.4} />
          <Series data={oxyCleaned} x={xOxy} y={yB} color={BLUE} width={2.8} />
        </g>
        <Box x={xOxy} y={yB} xMarks={gridOxy} yMarks={[250, 300, 350]} />
        <YLabels y={yB} at={[200, 250, 300, 350, 400]} xEnd={231} />
        <VLabel x={161} y={643} len={353} size={29}>
          Dissolved Oxygen (<tspan fontStyle="italic">{"\u03bc"}</tspan>M/kg)
        </VLabel>
        <Legend x={1507} y={440} len={128} color="#7d7d7d">raw data</Legend>
        <Legend x={1676} y={440} len={193} color="#2e8ad2">cleaned data</Legend>

        {/* panel C: oxygen QC flags */}
        <Grid x={xOxy} y={yC} at={gridOxy} />
        <Runs runs={qcOxyMissing} level={9} x={xOxy} y={yC} color="#c9c9c9" />
        <Runs runs={qcOxyBad} level={4} x={xOxy} y={yC} color="#f26a35" />
        <Runs runs={qcOxyGood} level={1} x={xOxy} y={yC} color="#3b95e8" />
        <Box x={xOxy} y={yC} xMarks={gridOxy} yMarks={[1, 4, 9]} />
        <YLabels y={yC} at={[1, 4, 9]} xEnd={231} />
        <XLabels x={xOxy} at={oxyTickYears} texts={oxyTickLabels} yBase={1187} />
        <VLabel x={157} y={1024} len={187} size={28}>QC flag values</VLabel>
        <Legend x={319} y={967} len={162} color="#222" size={30}>missing value</Legend>
        <Legend x={323} y={1043} len={107} color="#222" size={30}>bad data</Legend>
        <Legend x={322} y={1108} len={124} color="#222" size={30}>good data</Legend>

        {/* panel D: calibration scatter */}
        <g>
          <g fill="#f0b43c">
            {calGreenUnder.map(([a, b], i) => (
              <circle key={i} cx={xD(a)} cy={yD(b)} r={9} />
            ))}
          </g>
          <g fill="#1ee61e" stroke="#b9ab45" strokeWidth={1.5}>
            {calGreen.map(([a, b], i) => (
              <circle key={i} cx={xD(a)} cy={yD(b)} r={9} />
            ))}
          </g>
          <g fill="#e07035">
            {calBlueUnder.map(([a, b], i) => (
              <circle key={i} cx={xD(a)} cy={yD(b)} r={9} />
            ))}
          </g>
          <g fill="#0b0be8" stroke="#d2683c" strokeWidth={1.5}>
            {calBlue.map(([a, b], i) => (
              <circle key={i} cx={xD(a)} cy={yD(b)} r={9} />
            ))}
          </g>
          <Segments data={calFitLines} x={xD} y={yD} color="#000" width={4} />
          <g fill="#000">
            {calFitDots.map(([a, b], i) => (
              <circle key={i} cx={xD(a)} cy={yD(b)} r={2.6} />
            ))}
          </g>
        </g>
        <Box x={xD} y={yD} xMarks={[0.1, 0.2, 0.3]} yMarks={[1]} />
        <YLabels y={yD} at={[0, 1, 2]} xEnd={2078} size={31} />
        <XLabels x={xD} at={[0, 0.1, 0.2, 0.3]} texts={["0", "0.1", "0.2", "0.3"]} yBase={410} size={31} />
        <text x={2295} y={450} textAnchor="middle" fontFamily={FONT} fontSize={31} fill="#3a3a3a" textLength={229} lengthAdjust="spacingAndGlyphs">
          Fluorescence (au)
        </text>
        <VLabel x={2040} y={250} len={255} size={29}>
          Chlorophyll (mgr/m<tspan dy={-12} fontSize={20}>-3</tspan>
          <tspan dy={12}>)</tspan>
        </VLabel>

        {/* panel E: chlorophyll series */}
        <Grid x={xE} y={yE} at={[2017, 2018, 2019]} />
        <g clipPath="url(#cE)">
          <Series data={chlCalibrated} x={xE} y={yE} color={BLUE} width={4} />
          <Series data={chlSatellite} x={xE} y={yE} color="#14902a" width={2.6} />
          <g fill="#14902a">
            {chlSatellite.map(([t, v], i) => (
              <rect key={i} x={xE(t) - 5} y={yE(v) - 5} width={10} height={10} />
            ))}
          </g>
          <Series data={chlCalibrated} x={xE} y={yE} color={BLUE} width={2} />
          <circle cx={xE(chlFirstSample[0])} cy={yE(chlFirstSample[1])} r={9} fill="#f6c35c" />
        </g>
        <Box x={xE} y={yE} xMarks={[2017, 2018, 2019]} yMarks={[2, 4]} />
        <YLabels y={yE} at={[0, 2, 4]} xEnd={2628} size={31} />
        <XLabels x={xE} at={chlYears} texts={chlYears.map(String)} yBase={402} size={30} />
        <VLabel x={2597} y={247} len={247} size={29}>
          Chlorophyll (mgr/m<tspan dy={-12} fontSize={20}>-3</tspan>
          <tspan dy={12}>)</tspan>
        </VLabel>
        <Legend x={2684} y={172} len={220} color="#2e8ad2" size={33}>calibrated data</Legend>
        <Legend x={3021} y={170} len={411} color="#1b9420" size={33}>satellite derived chlorophyll</Legend>

        {/* panel F: fluorescence raw / cleaned */}
        <Grid x={xF} y={yF} at={fluoGridYears} />
        <g clipPath="url(#cF)">
          <Segments data={fluoRaw} x={xF} y={yF} color={GREY} width={2.4} />
          <Series data={fluoCleaned} x={xF} y={yF} color={BLUE} width={2.4} />
        </g>
        <Box x={xF} y={yF} xMarks={fluoGridYears} yMarks={[1, 2, 3, 4]} />
        <YLabels y={yF} at={[0, 1, 2, 3, 4, 5]} xEnd={2083} size={31} />
        <VLabel x={2046} y={696} len={252} size={31}>Fluorescence (au)</VLabel>
        <Legend x={3372} y={530} len={126} color="#7d7d7d">raw data</Legend>
        <Legend x={3666} y={530} len={186} color="#2e8ad2">cleaned data</Legend>

        {/* panel G: fluorescence QC flags */}
        <Grid x={xF} y={yG} at={fluoYears.slice(1, -1)} />
        <Runs runs={qcFluoMissing} level={9} x={xF} y={yG} color="#c9c9c9" size={11} />
        <Runs runs={qcFluoBad} level={4} x={xF} y={yG} color="#f26a35" size={11} />
        <Runs runs={qcFluoGood} level={1} x={xF} y={yG} color="#3b95e8" size={11} />
        <Box x={xF} y={yG} xMarks={fluoYears.slice(1, -1)} yMarks={[1, 4, 9]} />
        <YLabels y={yG} at={[1, 4, 9]} xEnd={2080} size={27} />
        <XLabels x={xF} at={fluoYears} texts={fluoYears.map(String)} yBase={1183} size={26} />
        <VLabel x={2058} y={1040} len={190} size={27}>QC flag values</VLabel>
        <Legend x={2266} y={950} len={165} color="#222" size={30}>missing value</Legend>
        <Legend x={2266} y={1048} len={118} color="#222" size={30}>bad value</Legend>
        <Legend x={2272} y={1111} len={136} color="#222" size={30}>good value</Legend>

        {/* caption */}
        <g fontFamily={FONT} fontSize={68} fill="#000">
          <text x={246} y={1268} textLength={3654} lengthAdjust="spacingAndGlyphs">{captionLines[0]}</text>
          <text x={193} y={1356} textLength={3767} lengthAdjust="spacingAndGlyphs">{captionLines[1]}</text>
          <text x={214} y={1444} textLength={3724} lengthAdjust="spacingAndGlyphs">{captionLines[2]}</text>
        </g>
      </g>
    </svg>
  );
}
